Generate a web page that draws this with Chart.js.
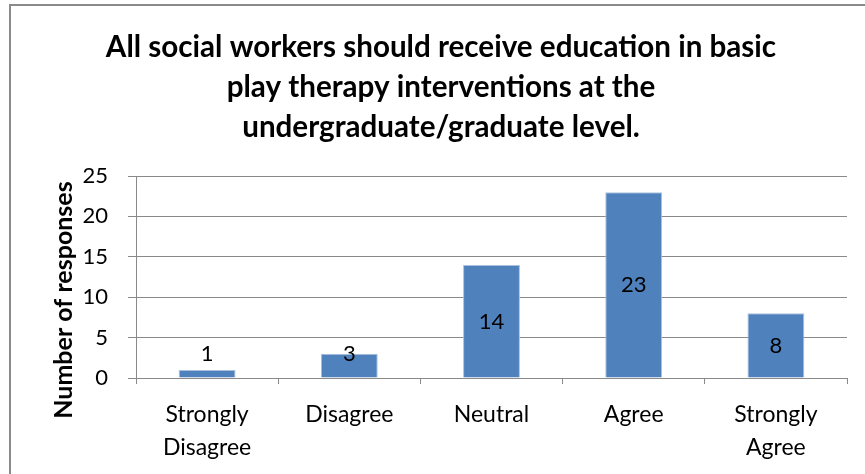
<!DOCTYPE html>
<html>
<head>
<meta charset="utf-8">
<script src="https://cdn.jsdelivr.net/npm/chart.js@4"></script>
<style>
	html, body { margin: 0; padding: 0; background: #fff; overflow: hidden; }
	#wrap { position: absolute; left: 9px; top: 4px; width: 882px; height: 490px; border: 2px solid #8a8a8a; }
	#chart { display: block; }
</style>
</head>
<body>
<div id="wrap"><canvas id="chart" width="860" height="490"></canvas></div>
<script>
const titleLines = ["All social workers should receive education in basic", "play therapy interventions at the", "undergraduate/graduate level."];
const categories = [["Strongly", "Disagree"], "Disagree", "Neutral", "Agree", ["Strongly", "Agree"]];
const responses = [1, 3, 14, 23, 8];
const yTicks = [0, 5, 10, 15, 20, 25];
const yTitle = "Number of responses";

const FONT = "Lato, Carlito, Calibri, sans-serif";
const GRID = "#898989";

// value labels + rotated axis title, drawn after the bars
const extras = {
	id: "extras",
	afterDatasetsDraw(chart) {
		const ctx = chart.ctx;
		const area = chart.chartArea;
		const meta = chart.getDatasetMeta(0);
		const base = chart.scales.y.getPixelForValue(0);
		ctx.save();
		ctx.fillStyle = "#000";
		ctx.font = "22px " + FONT;
		ctx.textAlign = "center";
		ctx.textBaseline = "middle";
		meta.data.forEach((bar, i) => {
			const mid = (bar.y + base) / 2;
			ctx.fillText(String(responses[i]), bar.x, Math.min(mid, base - 24));
		});
		ctx.translate(area.left - 72, (area.top + area.bottom) / 2 + 23);
		ctx.rotate(-Math.PI / 2);
		ctx.font = "bold 25px " + FONT;
		ctx.fillText(yTitle, 0, 0);
		ctx.restore();
	}
};

new Chart(
	document.getElementById("chart"),
	{
		type: "bar",
		data: {
			labels: categories,
			datasets: [{
				data: responses,
				backgroundColor: "#4f81bd",
				borderColor: "#a9c1de",
				borderWidth: 1,
				barPercentage: 0.8,
				categoryPercentage: 0.5,
			}],
		},
		options: {
			responsive: false,
			animation: false,
			layout: { padding: 0 },
			plugins: {
				legend: { display: false },
				tooltip: { enabled: false },
				title: {
					display: true,
					text: titleLines,
					color: "#000",
					font: { family: FONT, size: 29.6, weight: "bold", lineHeight: "40px" },
					padding: { top: 21, bottom: 29 }
				}
			},
			scales: {
				x: {
					grid: { offset: true, drawOnChartArea: false, drawTicks: true, tickLength: 6, color: GRID },
					border: { color: GRID },
					ticks: { color: "#000", font: { family: FONT, size: 23, lineHeight: "33px" }, padding: 14, maxRotation: 0, autoSkip: false },
					afterFit: s => { s.height = 118; }
				},
				y: {
					min: 0,
					max: 25,
					afterBuildTicks: s => { s.ticks = yTicks.map(v => ({ value: v })); },
					grid: { color: GRID, tickLength: 8 },
					border: { color: GRID },
					ticks: { color: "#000", font: { family: FONT, size: 22 }, padding: 20 },
					afterFit: s => { s.width = 125; }
				},
				// empty right-hand axis, only reserves the space right of the plot
				spacer: {
					position: "right",
					min: 0,
					max: 25,
					grid: { display: false },
					border: { display: false },
					ticks: { display: false },
					afterFit: s => { s.width = 24; }
				}
			}
		},
		plugins: [extras]
	}
)
</script>
</body>
</html>
